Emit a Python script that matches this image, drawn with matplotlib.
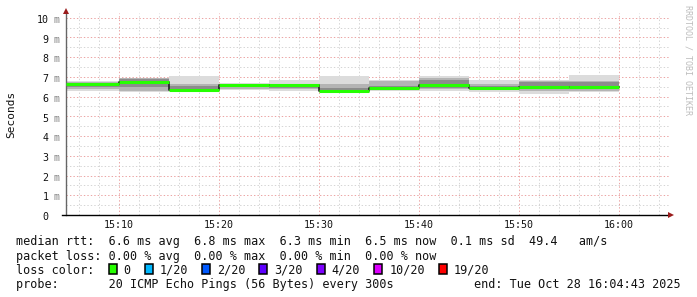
import matplotlib
matplotlib.use("Agg")
import matplotlib.pyplot as plt
from matplotlib import transforms
from matplotlib.patches import Rectangle

W, H = 697, 297
MONO = "DejaVu Sans Mono"
plt.rcParams["lines.scale_dashes"] = False

# time axis in minutes after 15:00, window ends 16:04:43
t_left, t_right = 4.72, 65.0
t_edges = [4.72, 10, 15, 20, 25, 30, 35, 40, 45, 50, 55, 60]

# rtt in ms per 5 minute step (smoke bands + median)
rtt_min = [6.30, 6.21, 6.26, 6.33, 6.28, 6.21, 6.26, 6.30, 6.25, 6.11, 6.25]
rtt_q1 = [6.36, 6.30, 6.32, 6.38, 6.36, 6.28, 6.34, 6.38, 6.34, 6.30, 6.30]
rtt_dk_lo = [6.50, 6.50, 6.38, 6.48, 6.42, 6.30, 6.40, 6.45, 6.36, 6.36, 6.36]
rtt_dk_hi = [6.70, 6.88, 6.52, 6.62, 6.60, 6.44, 6.55, 6.85, 6.55, 6.76, 6.74]
rtt_q3 = [6.76, 6.92, 6.62, 6.66, 6.66, 6.62, 6.80, 6.95, 6.66, 6.80, 6.78]
rtt_max = [6.80, 6.96, 7.03, 6.70, 6.82, 7.02, 6.84, 7.03, 6.82, 6.82, 7.09]
rtt_median = [6.66, 6.74, 6.33, 6.57, 6.57, 6.30, 6.43, 6.60, 6.46, 6.50, 6.50]

x_ticks = [10, 20, 30, 40, 50, 60]
x_labels = ["15:10", "15:20", "15:30", "15:40", "15:50", "16:00"]
y_ticks = list(range(11))

loss_labels = ["0", "1/20", "2/20", "3/20", "4/20", "10/20", "19/20"]
loss_colors = ["#26ff00", "#00b8ff", "#0059ff", "#5e00ff", "#7e00ff",
               "#dd00ff", "#ff0000"]

line_rtt = ("median rtt:  6.6 ms avg  6.8 ms max  6.3 ms min  "
            "6.5 ms now  0.1 ms sd  49.4   am/s")
line_loss = "packet loss: 0.00 % avg  0.00 % max  0.00 % min  0.00 % now"
line_probe = "probe:       20 ICMP Echo Pings (56 Bytes) every 300s"
line_end = "end: Tue Oct 28 16:04:43 2025"


def fx(x):
    return x / W


def fy(y):
    return 1 - y / H


fig = plt.figure(figsize=(W / 100, H / 100), dpi=100)
ax = fig.add_axes([fx(66.2), fy(215), (669 - 66.2) / W, (215 - 12.7) / H])
ax.set_xlim(t_left, t_right)
ax.set_ylim(0, 10.25)

# grid: minor every 2 min / 0.5 ms, major every 10 min / 1 ms
dots = (0, (1.0, 1.5))
for t in range(6, 65, 2):
    if t % 10:
        ax.axvline(t, color="#d4d4d4", lw=0.7, ls=dots, zorder=0)
for v in [i + 0.5 for i in range(10)]:
    ax.axhline(v, color="#d4d4d4", lw=0.7, ls=dots, zorder=0)
for t in x_ticks:
    ax.axvline(t, color="#eba3a3", lw=0.7, ls=dots, zorder=0)
for v in y_ticks[1:]:
    ax.axhline(v, color="#eba3a3", lw=0.7, ls=dots, zorder=0)

# smoke
for i in range(len(rtt_median)):
    xs = [t_edges[i], t_edges[i + 1]]
    ax.fill_between(xs, rtt_min[i], rtt_max[i], color="#dcdcdc", lw=0, zorder=1)
    ax.fill_between(xs, rtt_q1[i], rtt_q3[i], color="#b4b4b4", lw=0, zorder=1)
    ax.fill_between(xs, rtt_dk_lo[i], rtt_dk_hi[i], color="#8c8c8c", lw=0, zorder=1)

# median: thin dark step line, green on top
ax.step(t_edges, rtt_median + [rtt_median[-1]], where="post",
        color="#202020", lw=1.2, zorder=2)
for i in range(len(rtt_median)):
    ax.plot([t_edges[i], t_edges[i + 1]], [rtt_median[i]] * 2,
            color=loss_colors[0], lw=2.2, solid_capstyle="butt", zorder=3)

# axes
for s in ["top", "right", "bottom"]:
    ax.spines[s].set_visible(False)
ax.spines["left"].set_color("#666666")
ax.spines["left"].set_linewidth(1.0)
ax.plot([t_left - 0.42, t_right], [0, 0], color="black", lw=1.0,
        clip_on=False, zorder=4)
ax.plot([t_right + 0.2], [0], marker=">", ms=4.5, color="#9a1c1c",
        mew=0, clip_on=False, zorder=5)
ax.plot([t_left], [10.35], marker="^", ms=4.5, color="#9a1c1c",
        mew=0, clip_on=False, zorder=5)

ax.set_xticks(x_ticks, x_labels, family=MONO, fontsize=7.2, color="#111111")
ax.set_yticks([])
ax.tick_params(axis="x", length=0, pad=3.4)

# y labels: number dark, unit gray
ytrans = transforms.offset_copy(
    transforms.blended_transform_factory(fig.transFigure, ax.transData),
    fig=fig, y=-5.2, units="dots")
for v in y_ticks:
    ax.text(fx(48.3), v, str(v), transform=ytrans, ha="right", va="baseline",
            family=MONO, fontsize=7.2, color="#111111")
    if v:
        ax.text(fx(54), v, "m", transform=ytrans, ha="left", va="baseline",
                family=MONO, fontsize=7.2, color="#8a8a8a")

fig.text(fx(11), fy(114), "Seconds", rotation=90, ha="center", va="center",
         family=MONO, fontsize=8, color="#111111")
fig.text(fx(688), fy(5), "RRDTOOL / TOBI OETIKER", rotation=-90,
         ha="center", va="top", family=MONO, fontsize=6, color="#bdbdbd")

# legend block
txt = dict(family=MONO, fontsize=8.5, color="#111111", va="baseline")
fig.text(fx(16), fy(245.3), line_rtt, **txt)
fig.text(fx(16), fy(259.6), line_loss, **txt)
fig.text(fx(16), fy(273.6), "loss color:", **txt)
fig.text(fx(16), fy(288.3), line_probe, **txt)
fig.text(fx(681), fy(288.3), line_end, ha="right",
         **{k: v for k, v in txt.items()})

x = 108.5
for lab, col in zip(loss_labels, loss_colors):
    fig.add_artist(Rectangle((fx(x), fy(273.8)), 8 / W, 10 / H,
                             transform=fig.transFigure, facecolor=col,
                             edgecolor="black", lw=1.1))
    fig.text(fx(x + 15), fy(273.6), lab, **txt)
    x += 15 + len(lab) * 7.1 + 14

fig.savefig("out.png", dpi=100)
